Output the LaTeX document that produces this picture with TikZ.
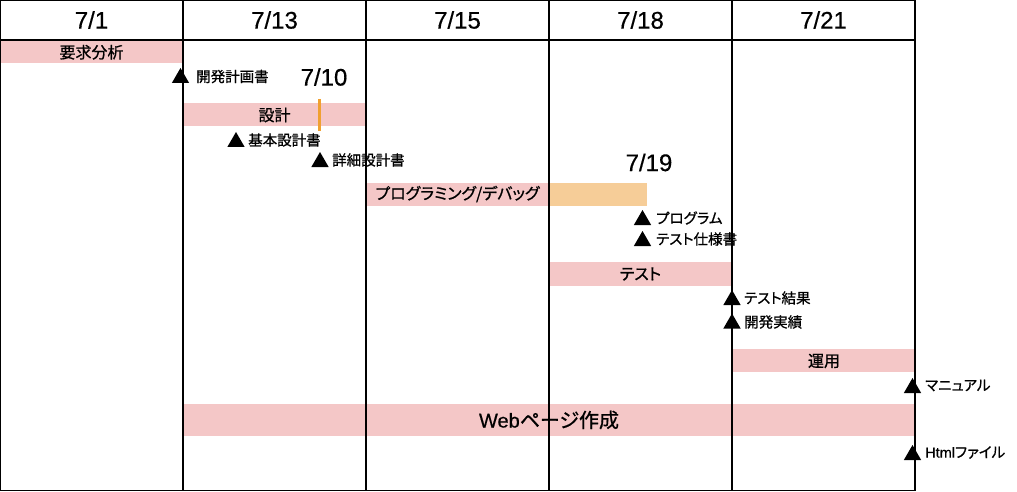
\documentclass[tikz,border=0pt]{standalone}
\usepackage{fontspec}
\setmainfont{Noto Sans CJK JP}[RawFeature=+palt, FakeBold=0.8]
\newfontfamily\latin{Liberation Sans}[FakeBold=0.5]
\usetikzlibrary{shapes.geometric}
\definecolor{barpink}{RGB}{244,199,199}
\definecolor{barorange}{RGB}{246,205,152}
\definecolor{lineorange}{RGB}{240,160,48}
\begin{document}
\begin{tikzpicture}[x=1pt,y=-1pt,
  bar/.style={fill=barpink, draw=none, anchor=north west, inner sep=0, outer sep=0},
  barlabel/.style={font=\fontsize{16}{16}\selectfont, inner sep=0},
  head/.style={font=\latin\fontsize{24}{24}\selectfont, inner sep=0},
  datelabel/.style={font=\latin\fontsize{24}{24}\selectfont, inner sep=0},
  tri/.style={regular polygon, regular polygon sides=3, fill=black, minimum size=20pt, inner sep=0, outer sep=0},
  mslabel/.style={font=\fontsize{14.5}{14.5}\selectfont, anchor=west, inner sep=0},
  gridline/.style={line width=1.2pt, black}]
\useasboundingbox (0,0) rectangle (1017,492);
% bars
\node[bar, minimum width=183pt, minimum height=22.5pt] (b1) at (0,41) {};
\node[bar, minimum width=183pt, minimum height=23.5pt] (b2) at (183,103) {};
\node[bar, minimum width=183pt, minimum height=23.5pt] (b3) at (366,182.5) {};
\node[bar, fill=barorange, minimum width=98pt, minimum height=23.5pt] (b3o) at (549,182.5) {};
\node[bar, minimum width=183pt, minimum height=23.5pt] (b4) at (549,262) {};
\node[bar, minimum width=182pt, minimum height=23pt] (b5) at (733,349) {};
\node[bar, minimum width=732pt, minimum height=31.5pt] (b6) at (183,404) {};
% grid
\coordinate (tl) at (0.6,0.6);
\coordinate (br) at (915,490.6);
\draw[gridline] (tl) rectangle (br);
\coordinate (hl) at (0.6,40);
\coordinate (hr) at (915,40);
\draw[gridline] (hl) -- (hr);
\foreach \x [count=\i] in {183,366,549,732} {
  \coordinate (ct\i) at (\x,0.6);
  \coordinate (cb\i) at (\x,490.6);
  \draw[gridline] (ct\i) -- (cb\i);
}
% headers
\node[head] (h1) at (91.5,20) {7/1};
\node[head] (h2) at (274.5,20) {7/13};
\node[head] (h3) at (457.5,20) {7/15};
\node[head] (h4) at (640.5,20) {7/18};
\node[head] (h5) at (823.5,20) {7/21};
% orange marker
\coordinate (om1) at (319,99);
\coordinate (om2) at (319,131);
\draw[lineorange, line width=3pt] (om1) -- (om2);
% bar labels
\node[barlabel] (l1) at (b1.center) {要求分析};
\node[barlabel] (l2) at (274.5,115) {設計};
\node[barlabel] (l3) at (457.5,194) {プログラミング/デバッグ};
\node[barlabel] (l4) at (640.5,274) {テスト};
\node[barlabel] (l5) at (824,361) {運用};
\node[font=\fontsize{20}{20}\selectfont, inner sep=0] (l6) at (549,420) {{\latin Web}ページ作成};
% date labels
\node[datelabel] (d1) at (324,77) {7/10};
\node[datelabel] (d2) at (649,162.5) {7/19};
% milestones
\node[tri] (m1) at (180.5,78) {};
\node[mslabel] (m1t) at (196,76.5) {開発計画書};
\node[tri] (m2) at (236,142) {};
\node[mslabel] (m2t) at (248,140) {基本設計書};
\node[tri] (m3) at (320,162) {};
\node[mslabel] (m3t) at (332,160) {詳細設計書};
\node[tri] (m4) at (642.5,220) {};
\node[mslabel] (m4t) at (656,218) {プログラム};
\node[tri] (m5) at (642.5,241) {};
\node[mslabel] (m5t) at (656,239) {テスト仕様書};
\node[tri] (m6) at (732,300) {};
\node[mslabel] (m6t) at (744,298) {テスト結果};
\node[tri] (m7) at (732,323.5) {};
\node[mslabel] (m7t) at (744,322) {開発実績};
\node[tri] (m8) at (912.5,388) {};
\node[mslabel] (m8t) at (925,385.5) {マニュアル};
\node[tri] (m9) at (912.5,455) {};
\node[mslabel] (m9t) at (925,452.5) {{\latin Html}ファイル};
\end{tikzpicture}
\end{document}
